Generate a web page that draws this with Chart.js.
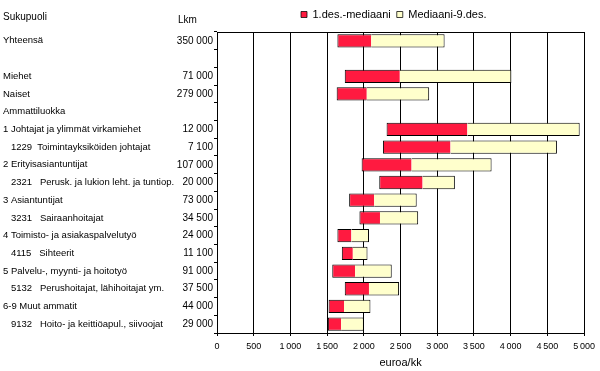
<!DOCTYPE html>
<html>
<head>
<meta charset="utf-8">
<script src="https://cdn.jsdelivr.net/npm/chart.js@4"></script>
<style>
html,body{margin:0;padding:0;background:#fff}
#wrap{width:600px;height:371px;position:relative}
</style>
</head>
<body>
<div id="wrap"><canvas id="c"></canvas></div>
<script>
const categories = [
  'Yhteensä', '', 'Miehet', 'Naiset', 'Ammattiluokka',
  '1 Johtajat ja ylimmät virkamiehet',
  '1229  Toimintayksiköiden johtajat',
  '2 Erityisasiantuntijat',
  '2321   Perusk. ja lukion leht. ja tuntiop.',
  '3 Asiantuntijat',
  '3231   Sairaanhoitajat',
  '4 Toimisto- ja asiakaspalvelutyö',
  '4115   Sihteerit',
  '5 Palvelu-, myynti- ja hoitotyö',
  '5132   Perushoitajat, lähihoitajat ym.',
  '6-9 Muut ammatit',
  '9132   Hoito- ja keittiöapul., siivoojat'
];
const counts = ['350 000', '', '71 000', '279 000', '', '12 000', '7 100', '107 000', '20 000',
  '73 000', '34 500', '24 000', '11 100', '91 000', '37 500', '44 000', '29 000'];
const decile1 = [1640, null, 1740, 1630, null, 2310, 2260, 1970, 2210, 1800, 1940, 1640, 1700, 1570, 1740, 1520, 1510];
const median  = [2100, null, 2490, 2040, null, 3410, 3180, 2650, 2800, 2140, 2220, 1830, 1850, 1880, 2070, 1730, 1690];
const decile9 = [3100, null, 4010, 2890, null, 4940, 4630, 3740, 3240, 2720, 2740, 2070, 2050, 2380, 2480, 2090, 2000];
const seriesNames = ['1.des.-mediaani', 'Mediaani-9.des.'];
const headerLeft = 'Sukupuoli';
const headerCount = 'Lkm';
const axisTitle = 'euroa/kk';
const xMin = 0, xMax = 5000, xStep = 500;

const FONT = "'Liberation Sans', Arial, Helvetica, sans-serif";
Chart.defaults.font.family = FONT;
Chart.defaults.color = '#000';

const lowerPart = decile1.map((v, i) => v == null ? null : [v, median[i]]);
const upperPart = median.map((v, i) => v == null ? null : [v, decile9[i]]);

function fmtNum(v) {
  return String(v).replace(/\B(?=(\d{3})+(?!\d))/g, '\u2009');
}

const extras = {
  id: 'extras',
  beforeDraw(chart) {
    const lg = chart.legend;
    if (lg) {
      lg.left = 295;
      lg.right = 600;
      lg.top = 3;
    }
  },
  beforeDatasetsDraw(chart) {
    const {ctx, chartArea} = chart;
    ctx.save();
    ctx.strokeStyle = '#000';
    ctx.lineWidth = 1;
    ctx.beginPath();
    ctx.moveTo(chartArea.left, Math.round(chartArea.top) + 0.5);
    ctx.lineTo(chartArea.right + 0.5, Math.round(chartArea.top) + 0.5);
    ctx.stroke();
    ctx.restore();
  },
  afterDraw(chart) {
    const {ctx} = chart;
    ctx.save();
    ctx.fillStyle = '#000';
    ctx.font = '10px ' + FONT;
    ctx.textAlign = 'left';
    ctx.textBaseline = 'alphabetic';
    ctx.fillText(headerLeft, 3, 20);
    ctx.fillText(headerCount, 178, 23);
    ctx.restore();
  }
};

new Chart(document.getElementById('c'), {
  type: 'bar',
  data: {
    labels: categories,
    datasets: [
      {
        label: seriesNames[0],
        data: lowerPart,
        backgroundColor: '#ff1a40',
        borderColor: '#000',
        borderWidth: {top: 1, bottom: 1, left: 1, right: 0},
        borderSkipped: false
      },
      {
        label: seriesNames[1],
        data: upperPart,
        backgroundColor: '#ffffcc',
        borderColor: '#000',
        borderWidth: {top: 1, bottom: 1, left: 0, right: 1},
        borderSkipped: false
      }
    ]
  },
  options: {
    indexAxis: 'y',
    responsive: true,
    maintainAspectRatio: false,
    animation: false,
    datasets: { bar: { grouped: false, barPercentage: 0.75, categoryPercentage: 1 } },
    layout: { padding: { left: 3, right: 15, top: 5, bottom: 0 } },
    plugins: {
      legend: {
        position: 'top',
        align: 'start',
        labels: { boxWidth: 6, boxHeight: 6, padding: 6, color: '#000', font: { size: 11 } }
      },
      tooltip: { enabled: false }
    },
    scales: {
      x: {
        type: 'linear',
        min: xMin, max: xMax,
        ticks: { stepSize: xStep, callback: v => fmtNum(v), color: '#000', font: { size: 9 }, padding: 5, maxRotation: 0, autoSkip: false },
        grid: { color: '#000', lineWidth: 1, tickLength: 3, drawTicks: true },
        border: { color: '#000' },
        title: { display: true, text: axisTitle, color: '#000', font: { size: 11 }, padding: { top: 0, bottom: 1 } },
        afterFit(s) { s.height = 38; }
      },
      y: {
        type: 'category',
        position: 'left',
        weight: 2,
        grid: { display: false },
        border: { display: false },
        ticks: {
          autoSkip: false, crossAlign: 'far', padding: 0, color: '#000', font: { size: 9.5 },
          callback(value, index) {
            const lbl = categories[index];
            return /^\d{4}/.test(lbl) ? '   ' + lbl : lbl;
          }
        },
        afterFit(s) { s.width = 174; }
      },
      y2: {
        type: 'category',
        labels: counts,
        position: 'left',
        weight: 1,
        offset: true,
        grid: { offset: true, drawOnChartArea: false, color: '#000', tickLength: 3 },
        border: { color: '#000' },
        ticks: { autoSkip: false, padding: 1, color: '#000', font: { size: 10 } },
        afterFit(s) { s.width = 40; }
      }
    }
  },
  plugins: [extras]
});
</script>
</body>
</html>
